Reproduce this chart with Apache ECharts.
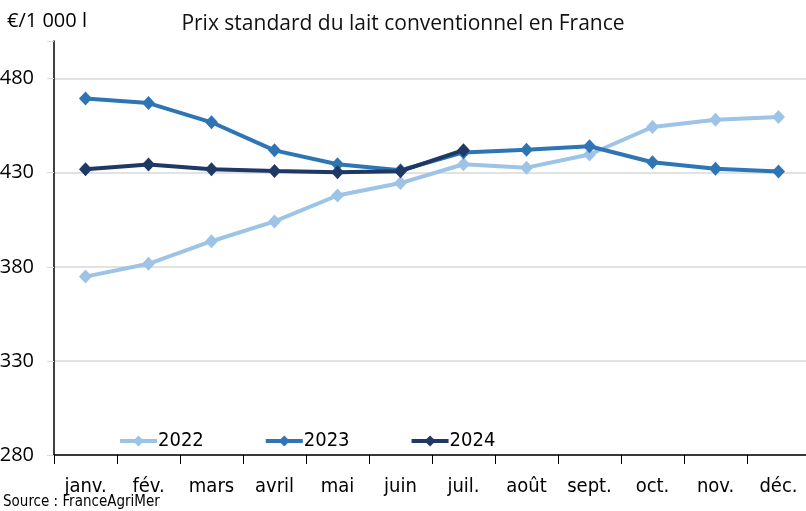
<!DOCTYPE html>
<html>
<head>
<meta charset="utf-8">
<title>Prix standard du lait</title>
<script type="text/javascript" src="https://cdn.jsdelivr.net/npm/echarts@6/dist/echarts.min.js"></script>
<style>
	html, body { margin: 0; padding: 0; background: #fff; }
	#container { width: 806px; height: 511px; }
</style>
</head>
<body>
	<div id="container"></div>
	<script type="text/javascript">
	// values (€/1 000 l)
	var months = ['janv.', 'fév.', 'mars', 'avril', 'mai', 'juin', 'juil.', 'août', 'sept.', 'oct.', 'nov.', 'déc.'];
	var prix2022 = [374.8, 381.6, 393.6, 404.1, 417.9, 424.5, 434.5, 432.7, 439.7, 454.3, 458.2, 459.6];
	var prix2023 = [469.4, 467.0, 456.8, 441.9, 434.5, 431.3, 440.8, 442.2, 444.1, 435.6, 432.1, 430.7];
	var prix2024 = [431.8, 434.4, 431.8, 430.9, 430.3, 430.8, 442.0];
	var yTicks = [280, 330, 380, 430, 480];

	var narrow = "'Liberation Sans Narrow', 'DejaVu Sans Condensed', sans-serif";
	var grey = '#d9d9d9';

	var dom = document.getElementById("container");
	var myChart = echarts.init(dom, null, { renderer: 'canvas' });

	function serie(name, data, color) {
		return {
			name: name,
			type: 'line',
			data: data,
			symbol: 'diamond',
			symbolSize: [13, 14],
			lineStyle: { width: 4, color: color },
			itemStyle: { color: color },
			emphasis: { disabled: true },
			z: name === '2024' ? 4 : (name === '2023' ? 3 : 2)
		};
	}

	var option = {
		animation: false,
		title: {
			text: 'Prix standard du lait conventionnel en France',
			left: 'center',
			top: 9,
			textStyle: { fontFamily: "'Open Sans', sans-serif", fontSize: 21, fontWeight: 'normal', color: '#111' }
		},
		legend: {
			left: 113,
			top: 426,
			itemWidth: 37,
			itemHeight: 14,
			itemGap: 60,
			lineStyle: { width: 4 },
			textStyle: { fontFamily: narrow, fontSize: 20, color: '#000', padding: [0, 0, 0, -4] },
			data: ['2022', '2023', '2024']
		},
		grid: { left: 54, right: -4, top: 41, bottom: 56, containLabel: false, outerBoundsMode: 'none' },
		xAxis: {
			type: 'category',
			data: months,
			boundaryGap: true,
			axisLine: { lineStyle: { color: '#000', width: 1.5 } },
			axisTick: { show: true, length: 9, lineStyle: { color: '#000' } },
			axisLabel: { fontFamily: narrow, fontSize: 20, color: '#000', margin: 22 }
		},
		yAxis: {
			type: 'value',
			min: 280,
			max: 500,
			interval: 50,
			name: '€/1 000 l',
			nameLocation: 'end',
			nameGap: 10,
			nameTextStyle: { fontFamily: "'Open Sans', sans-serif", fontSize: 20, color: '#000', align: 'left', padding: [0, 0, 0, -47] },
			axisLine: { show: true, lineStyle: { color: '#000', width: 1.5 } },
			axisTick: { show: true, length: 7, lineStyle: { color: grey } },
			axisLabel: {
				fontFamily: "'Open Sans', sans-serif", fontSize: 20, color: '#000', margin: 20,
				formatter: function (v) { return yTicks.indexOf(v) >= 0 ? String(v) : ''; }
			},
			splitLine: { show: true, lineStyle: { color: [grey, grey, grey, grey, grey, 'rgba(0,0,0,0)'], width: 1.5 } }
		},
		series: [
			serie('2022', prix2022, '#9dc3e6'),
			serie('2023', prix2023, '#2e75b6'),
			serie('2024', prix2024, '#1f3864')
		],
		graphic: [{
			type: 'text',
			left: 3,
			top: 495,
			style: { text: 'Source : FranceAgriMer', fontFamily: narrow, fontSize: 15, fill: '#000' }
		}]
	};

	myChart.setOption(option, true);
</script>
</body>
</html>
